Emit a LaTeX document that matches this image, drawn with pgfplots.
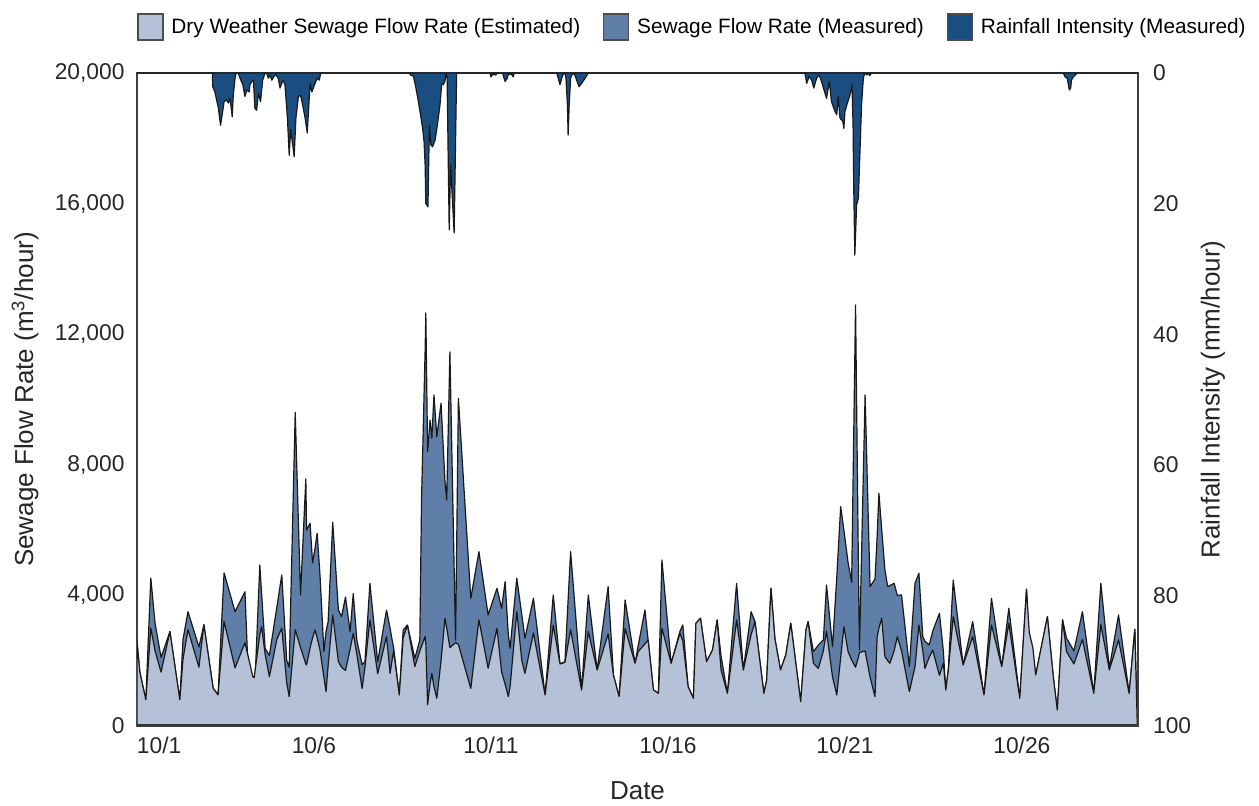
\documentclass[border=0pt]{standalone}
\usepackage{fontspec}
\setmainfont{Liberation Sans}
\usepackage{pgfplots}
\usepackage{pgfplotstable}
\pgfplotsset{compat=1.18}
\definecolor{dryc}{RGB}{180,193,214}
\definecolor{measc}{RGB}{96,127,168}
\definecolor{rainc}{RGB}{26,78,128}

\pgfplotstableread{
d dry meas
0.00 2580 2580
0.08 1650 1650
0.25 800 800
0.39 3000 4530
0.51 2300 3150
0.68 1650 2100
0.93 2890 2890
1.21 800 800
1.30 2050 2650
1.44 2950 3500
1.75 1800 2420
1.89 3100 3100
2.15 1160 1160
2.29 950 950
2.46 3200 4690
2.77 1780 3500
3.05 2550 4110
3.17 2000 850
3.27 1510 800
3.31 1480 750
3.47 2800 4930
3.52 3040 4060
3.62 2200 2380
3.74 1510 2160
3.95 2650 3630
4.09 3000 4625
4.23 1320 2000
4.30 900 1800
4.47 2950 9600
4.62 2400 4010
4.77 1900 7570
4.79 1870 6000
4.89 2390 6210
4.96 2700 4990
5.03 2940 5450
5.09 2700 5900
5.17 2330 4625
5.28 1500 2280
5.34 1050 2890
5.40 1850 3195
5.53 3400 6240
5.69 1970 3550
5.78 1800 3350
5.89 1700 3950
6.02 2350 2890
6.11 2840 4060
6.21 2200 2630
6.36 1150 1880
6.44 1800 1970
6.58 3250 4370
6.80 1600 1970
7.05 2740 3550
7.15 1610 3000
7.19 1900 2740
7.25 2300 2400
7.41 950 950
7.52 2700 2940
7.64 3090 3090
7.85 1820 2070
7.99 2300 2630
8.04 2450 7000
8.14 2740 11500
8.16 2500 12650
8.21 650 8400
8.28 1300 9370
8.33 1610 8810
8.39 1200 10140
8.47 850 8860
8.59 2000 9885
8.70 3300 7500
8.75 3000 6920
8.84 2400 11456
9.00 2550 2630
9.08 2500 10037
9.43 1150 3911
9.66 3250 5339
9.92 1770 3400
10.17 2990 4218
10.30 1660 3605
10.40 1280 4420
10.49 900 2800
10.54 1200 2380
10.73 3500 4524
10.87 2020 3420
10.96 1610 2686
11.20 2850 3911
11.53 950 950
11.76 3090 4013
11.95 1900 1900
12.09 1950 1970
12.25 2950 5339
12.56 1100 1100
12.75 2890 4013
13.00 1715 1715
13.31 2820 4268
13.46 1560 1560
13.62 900 900
13.79 2990 3859
14.07 1920 1920
14.16 2280 2460
14.35 2510 3553
14.44 2634 2634
14.59 1103 1103
14.73 1000 1000
14.83 3000 5085
15.09 1920 1920
15.34 2840 2900
15.42 2600 3094
15.57 1205 1205
15.72 848 848
15.79 3145 3145
15.92 3298 3298
16.09 1970 1970
16.26 2330 2330
16.39 3247 3247
16.50 1715 2144
16.68 1000 1000
16.94 3247 4371
17.13 1715 1715
17.35 2800 3500
17.46 3195 3195
17.71 1000 1000
17.79 1409 1409
17.91 4218 4218
18.02 2686 2686
18.18 1715 1715
18.33 2175 2175
18.47 3145 3145
18.75 744 744
18.90 2940 2940
18.96 3195 3195
19.11 1920 2276
19.25 1766 2480
19.39 2300 2634
19.48 2900 4319
19.65 1500 2430
19.77 950 4570
19.88 2095 6717
19.97 3042 6000
20.09 2276 5000
20.19 2020 4400
20.30 1800 12895
20.38 2100 5000
20.41 2250 2330
20.57 2300 10139
20.71 1500 4268
20.85 897 4500
20.91 2736 5800
20.96 3000 7128
21.04 3298 6000
21.13 2123 4778
21.21 2000 4268
21.27 1920 4300
21.39 2300 4371
21.48 2736 4000
21.60 2300 4013
21.82 1051 1816
21.98 1816 4371
22.09 3094 4677
22.20 2300 2736
22.26 1766 2600
22.38 2100 2481
22.48 2328 2900
22.67 1550 3451
22.78 1920 2300
22.85 1103 1103
22.92 1700 1715
23.06 3348 4472
23.34 1868 1868
23.61 2736 3195
23.93 950 950
24.14 3094 3911
24.43 1816 1816
24.63 3145 3605
24.94 848 848
25.13 4187 4187
25.21 2850 2200
25.31 2400 2175
25.39 1562 1562
25.72 3348 3348
25.89 1470 1470
26.00 490 490
26.15 3247 3247
26.26 2276 2686
26.47 1900 2300
26.71 2650 3501
27.03 1000 1000
27.23 3100 4371
27.47 1715 1766
27.73 2634 3400
28.03 1000 1000
28.19 2960 2960
28.26 0 0
}\flowdata

\pgfplotstableread{
d rain
0 0
2.13 0
2.14 2.1
2.20 2.9
2.30 5.4
2.36 8.0
2.42 5.9
2.46 4.4
2.53 4.1
2.58 4.6
2.63 3.9
2.69 6.7
2.72 3.4
2.77 0.8
2.80 0
2.86 0
2.91 0.8
2.99 1.8
3.05 3.6
3.10 2.6
3.17 2.9
3.19 1.8
3.24 1.3
3.29 1.1
3.33 5.4
3.38 5.7
3.43 3.1
3.49 4.4
3.55 1.1
3.62 0
3.66 0
3.71 0.8
3.76 0.3
3.81 1.1
3.87 0.5
3.93 0.3
3.99 0.8
4.04 2.3
4.09 1.6
4.13 1.1
4.18 1.8
4.25 6.9
4.30 12.6
4.34 8.7
4.40 11.0
4.44 12.8
4.49 6.9
4.56 3.6
4.62 3.4
4.68 4.9
4.75 6.9
4.81 9.2
4.89 1.6
4.94 2.9
5.03 1.6
5.09 0.8
5.15 1.1
5.19 0
7.69 0
7.73 0.3
7.81 0.5
7.88 2.3
7.95 4.4
8.01 6.4
8.07 8.5
8.11 10.5
8.14 14.1
8.16 20.0
8.22 20.5
8.26 8.0
8.30 11.0
8.35 11.3
8.42 10.3
8.48 8.2
8.56 4.9
8.61 1.6
8.65 1.8
8.70 1.3
8.73 0.2
8.76 0.5
8.82 24.0
8.86 14.1
8.96 24.5
9.03 0
9.97 0
10.00 0.6
10.05 0.2
10.14 0.3
10.18 0
10.33 0
10.37 0.8
10.40 1.3
10.46 0.8
10.49 0.2
10.58 0.2
10.63 0.6
10.66 0
11.86 0
11.90 0.8
11.95 1.8
12.00 0.8
12.04 0.2
12.09 0
12.12 0.8
12.16 4.9
12.18 9.5
12.21 4.9
12.25 0.8
12.31 0
12.37 0.3
12.42 1.1
12.49 2.1
12.56 1.6
12.66 0.8
12.75 0
18.87 0
18.92 1.6
18.99 0.5
19.06 1.1
19.12 2.3
19.20 0.8
19.27 0.3
19.34 1.3
19.41 2.6
19.48 3.9
19.56 1.3
19.62 4.4
19.72 5.9
19.77 6.4
19.81 3.6
19.86 6.9
19.94 7.4
19.97 8.5
20.00 5.9
20.07 4.6
20.14 3.4
20.20 1.8
20.23 8.0
20.25 18.0
20.28 27.9
20.33 20.2
20.38 19.2
20.47 4.9
20.52 0.8
20.56 0
20.62 0.3
20.66 0
20.70 0.4
20.75 0
26.17 0
26.22 0.6
26.28 0.8
26.34 2.6
26.38 2.3
26.40 1.1
26.45 0.6
26.53 0.2
26.56 0
28.26 0
}\raindata

\begin{document}
\begin{tikzpicture}
\begin{axis}[
  scale only axis, width=500.5pt, height=326.5pt,
  xmin=0, xmax=28.28, ymin=0, ymax=20000,
  xtick={0,5,10,15,20,25},
  xticklabels={\makebox[0pt][l]{10/1},10/6,10/11,10/16,10/21,10/26},
  ytick={0,4000,8000,12000,16000,20000},
  scaled y ticks=false,
  /pgf/number format/1000 sep={,},
  /pgf/number format/assume math mode=true,
  major tick length=0pt,
  tick label style={font=\fontsize{11.4}{13}\selectfont, text=black!85},
  yticklabel style={xshift=-2.7pt},
  xticklabel style={yshift=-2pt},
  axis line style={draw=black!75, line width=0.7pt},
  label style={font=\fontsize{13}{15}\selectfont, text=black!85},
  xlabel={Date},
  xlabel style={at={(axis description cs:0.5,-0.099)}, anchor=center},
  ylabel={Sewage Flow Rate (m\textsuperscript{3}/hour)},
  ylabel style={at={(axis description cs:-0.1119,0.5)}, anchor=center},
  legend columns=3,
  legend style={at={(axis description cs:0,1)}, anchor=south west, yshift=16pt,
    draw=none, fill=none, inner sep=0pt,
    font=\fontsize{10.4}{12}\selectfont,
    /tikz/every even column/.append style={column sep=9.5pt}},
  legend cell align=left,
  legend image code/.code={\draw[#1, draw=black!70, line width=0.6pt] (0pt,-6.5pt) rectangle (12.5pt,6.5pt); \path (14.5pt,0pt);},
]
\addlegendimage{fill=dryc}
\addlegendentry{Dry Weather Sewage Flow Rate (Estimated)}
\addlegendimage{fill=measc}
\addlegendentry{Sewage Flow Rate (Measured)}
\addlegendimage{fill=rainc}
\addlegendentry{Rainfall Intensity (Measured)}
\addplot[forget plot, fill=measc, draw=black!90, line width=0.6pt, line join=round] table[x=d, y=meas]{\flowdata} \closedcycle;
\addplot[forget plot, fill=dryc, draw=black!90, line width=0.6pt, line join=round] table[x=d, y=dry]{\flowdata} \closedcycle;
\draw[black!80, line width=1.5pt] (rel axis cs:0,0) -- (rel axis cs:1,0);
\coordinate (bl) at (rel axis cs:0,0);
\coordinate (tr) at (rel axis cs:1,1);
\end{axis}
\begin{axis}[
  scale only axis, width=500.5pt, height=326.5pt,
  xmin=0, xmax=28.28, ymin=0, ymax=100, y dir=reverse,
  axis x line=none, axis y line*=right,
  ytick={0,20,40,60,80,100},
  major tick length=0pt,
  /pgf/number format/assume math mode=true,
  tick label style={font=\fontsize{11.4}{13}\selectfont, text=black!85},
  yticklabel style={xshift=4pt},
  axis line style={draw=black!75, line width=0.7pt},
  label style={font=\fontsize{13}{15}\selectfont, text=black!85},
  ylabel={Rainfall Intensity (mm/hour)},
  ylabel style={at={(axis description cs:1.0749,0.5)}, anchor=center},
]
\addplot[fill=rainc, draw=black!90, line width=0.6pt, line join=round] table[x=d, y=rain]{\raindata} \closedcycle;
\end{axis}
\pgfresetboundingbox
\path[use as bounding box] ([shift={(-68.5pt,-40pt)}]bl) rectangle ([shift={(60.5pt,36.5pt)}]tr);
\end{tikzpicture}
\end{document}
